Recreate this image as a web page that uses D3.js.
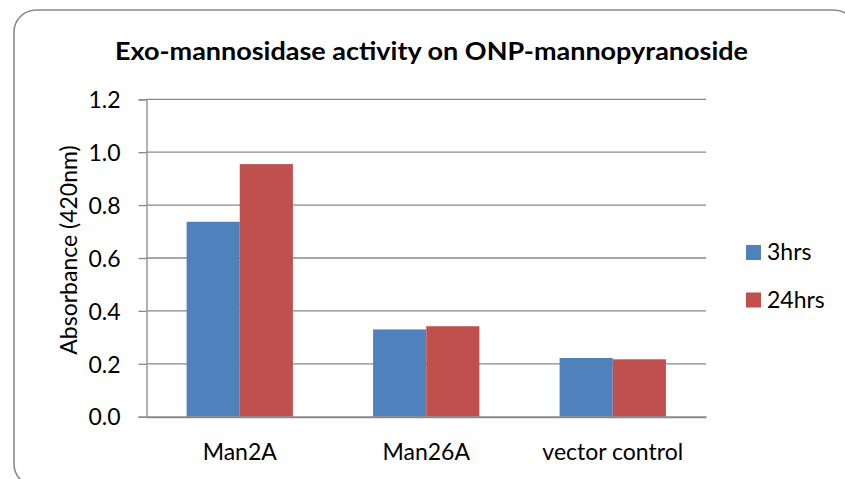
<!DOCTYPE html>
<html><head><meta charset="utf-8">
<script src="https://cdn.jsdelivr.net/npm/d3@7"></script>
<style>body{margin:0;background:#fff}svg{display:block}text{font-family:Lato,"Open Sans",sans-serif;fill:#000}</style>
</head><body><svg id="c" width="845" height="479"></svg>
<script>
const categories = ["Man2A", "Man26A", "vector control"];
const seriesNames = ["3hrs", "24hrs"];
const values3hrs = [0.737, 0.330, 0.222];
const values24hrs = [0.955, 0.342, 0.217];
const yTicks = [0, 0.2, 0.4, 0.6, 0.8, 1.0, 1.2];
const colors = ["#4F81BD", "#C0504D"];
const title = "Exo-mannosidase activity on ONP-mannopyranoside";
const yTitle = "Absorbance (420nm)";

const svg = d3.select("#c");
svg.append("rect").attr("x", 14).attr("y", 10).attr("width", 842).attr("height", 476)
  .attr("rx", 22).attr("fill", "#fff").attr("stroke", "#8a8a8a").attr("stroke-width", 1.6);

const L = 146.5, R = 706, T = 99.3, B = 416.7;
const y = d3.scaleLinear().domain([0, 1.2]).range([B, T]);
const x0 = d3.scaleBand().domain(categories).range([L, R]).paddingInner(0.43).paddingOuter(0.215);
const x1 = d3.scaleBand().domain(seriesNames).range([0, x0.bandwidth()]);

// gridlines
svg.append("g").selectAll("line").data(yTicks.slice(1)).join("line")
  .attr("x1", L).attr("x2", R).attr("y1", d => y(d)).attr("y2", d => y(d))
  .attr("stroke", "#888").attr("stroke-width", 1.3);

// y axis
const yAxis = svg.append("g").attr("transform", `translate(${L},0)`)
  .call(d3.axisLeft(y).tickValues(yTicks).tickFormat(d3.format(".1f")).tickSize(8).tickPadding(18));
yAxis.select(".domain").attr("stroke", "#888").attr("stroke-width", 1.3);
yAxis.selectAll(".tick line").attr("stroke", "#888").attr("stroke-width", 1.3);
yAxis.selectAll(".tick text").attr("font-size", 23).attr("font-family", "Lato").attr("fill", "#000").attr("dy", "0.36em");

// bars
const data = categories.map((c, i) => ({c, v: [values3hrs[i], values24hrs[i]]}));
svg.append("g").selectAll("g").data(data).join("g")
  .attr("transform", d => `translate(${x0(d.c)},0)`)
  .selectAll("rect").data(d => d.v.map((v, j) => ({v, s: seriesNames[j], j}))).join("rect")
  .attr("x", d => x1(d.s)).attr("width", x1.bandwidth())
  .attr("y", d => y(d.v)).attr("height", d => y(0) - y(d.v))
  .attr("fill", d => colors[d.j]);

// x axis
const xAxis = svg.append("g").attr("transform", `translate(0,${B})`)
  .call(d3.axisBottom(x0).tickSize(0));
xAxis.select(".domain").attr("stroke", "#888").attr("stroke-width", 2);
xAxis.selectAll(".tick text").attr("font-size", 23).attr("font-family", "Lato").attr("fill", "#000")
  .attr("y", 43).attr("dy", 0);

// title
svg.append("text").attr("x", 431.5).attr("y", 60).attr("text-anchor", "middle")
  .attr("font-size", 25).attr("font-weight", "bold").attr("textLength", 633)
  .attr("lengthAdjust", "spacingAndGlyphs").text(title);

// y title
svg.append("text").attr("transform", "translate(77,250) rotate(-90)")
  .attr("text-anchor", "middle").attr("font-size", 23).text(yTitle);

// legend
const lg = svg.append("g").selectAll("g").data(seriesNames).join("g")
  .attr("transform", (d, i) => `translate(746,${245 + i * 47.5})`);
lg.append("rect").attr("width", 15).attr("height", 15).attr("fill", (d, i) => colors[i]);
lg.append("text").attr("x", 21).attr("y", 15).attr("font-size", 23).text(d => d);
</script></body></html>
